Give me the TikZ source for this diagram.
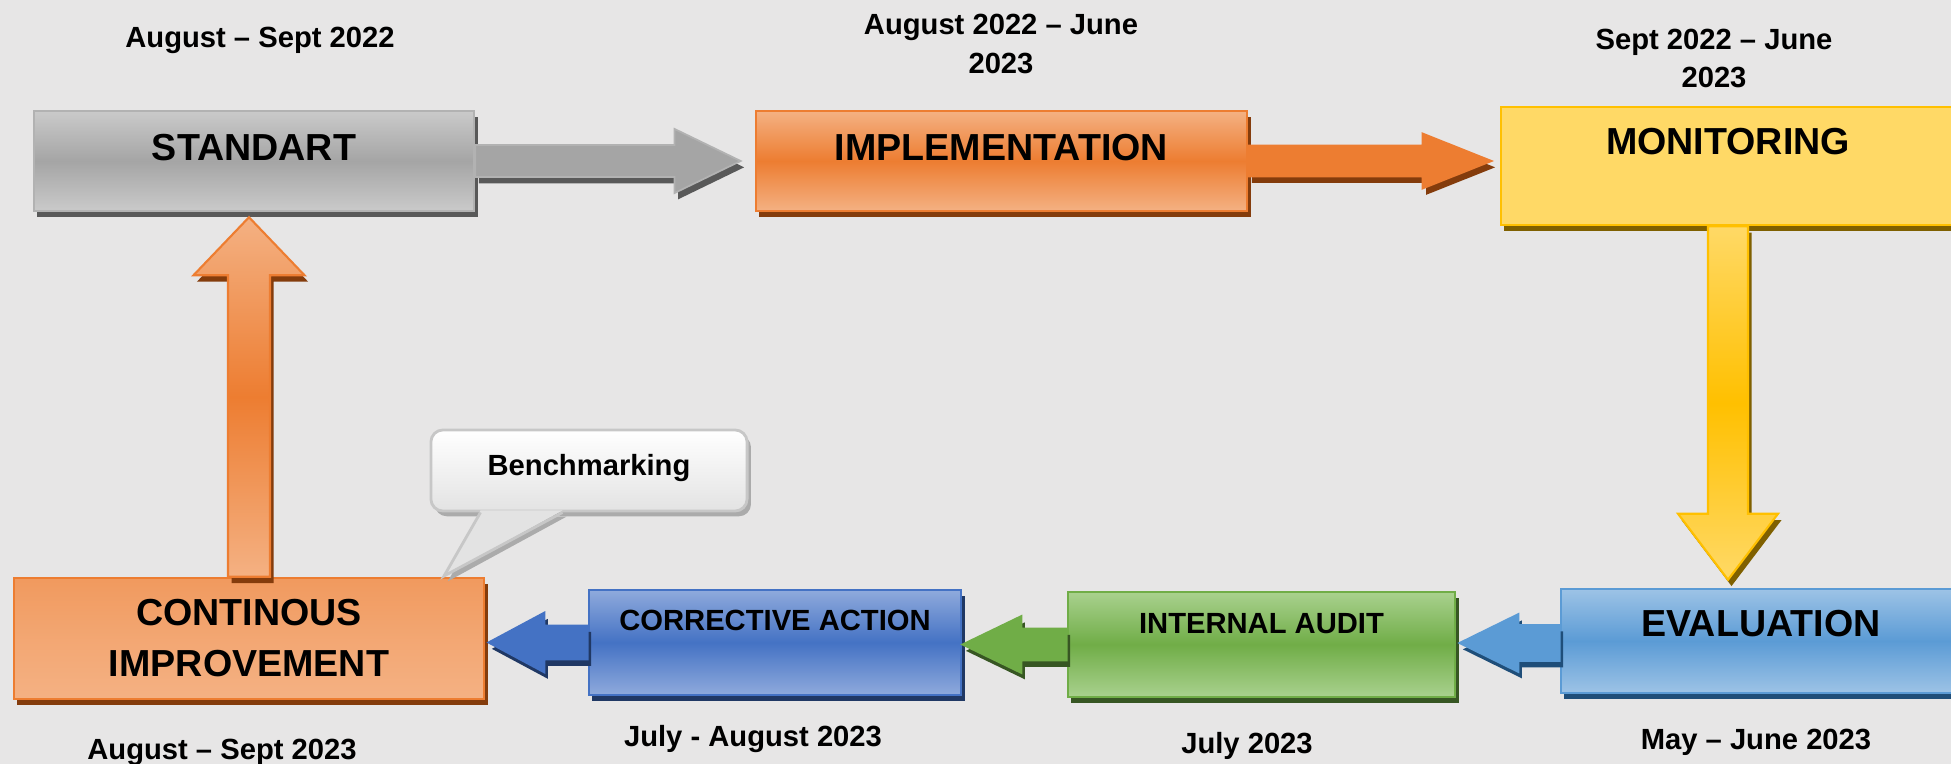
\documentclass[tikz,border=0pt]{standalone}
\usepackage{fontspec}
\setmainfont{Liberation Sans}
\usetikzlibrary{calc,shadows}

\definecolor{bgc}{HTML}{E7E6E6}
\definecolor{grayl}{HTML}{CACACA}
\definecolor{graym}{HTML}{A5A5A5}
\definecolor{grayd}{HTML}{595959}
\definecolor{orl}{HTML}{F4B183}
\definecolor{orm}{HTML}{ED7D31}
\definecolor{ord}{HTML}{843C0C}
\definecolor{yel}{HTML}{FFD966}
\definecolor{yem}{HTML}{FFC000}
\definecolor{yed}{HTML}{7F6000}
\definecolor{bll}{HTML}{9DC3E6}
\definecolor{blm}{HTML}{5B9BD5}
\definecolor{bld}{HTML}{1F4E79}
\definecolor{grl}{HTML}{A9D18E}
\definecolor{grm}{HTML}{70AD47}
\definecolor{grd}{HTML}{375623}
\definecolor{dbl}{HTML}{8FAADC}
\definecolor{dbm}{HTML}{4472C4}
\definecolor{dbd}{HTML}{203864}

\newcommand{\arrowpath}[5]{($(#1)!#3!90:(#2)$) -- ($(#5)!#3!90:(#2)$) -- ($(#5)!#4!90:(#2)$) -- (#2) -- ($(#5)!#4!-90:(#2)$) -- ($(#5)!#3!-90:(#2)$) -- ($(#1)!#3!-90:(#2)$) -- cycle}
\newcommand{\blockarrow}[7]{%
  \coordinate (hb) at ($(#4)!#7!(#3)$);
  \fill[#2, transform canvas={xshift=1pt, yshift=-1.8pt}] \arrowpath{#3}{#4}{#5}{#6}{hb};
  \path[#1] \arrowpath{#3}{#4}{#5}{#6}{hb};}

\begin{document}
\begin{tikzpicture}[x=0.01cm, y=-0.01cm,
	every node/.style={inner sep=0pt, font=\bfseries},
	box/.style n args={4}{draw=#1, line width=0.7pt, top color=#2, bottom color=#2, middle color=#3, general shadow={fill=#4, shadow xshift=1pt, shadow yshift=-1.8pt}},
	big/.style={font=\fontsize{10.7}{14.5}\selectfont\bfseries, text height=0.27cm, text depth=#1},
	small/.style={font=\fontsize{8.3}{11}\selectfont\bfseries, text height=0.21cm, text depth=#1},
	date/.style={font=\fontsize{8.3}{10.9}\selectfont\bfseries},
	one/.style={text height=0.2cm, text depth=0cm},
	bubble/.style={draw=black!22, line width=0.8pt, rounded corners=0.12cm, top color=white, bottom color=black!11, minimum width=3.16cm, minimum height=0.81cm, general shadow={fill=black!33, shadow xshift=1.1pt, shadow yshift=-1.5pt}}]
	\clip (0,0) rectangle (1951,764);
	\fill[bgc] (0,0) rectangle (1951,764);
	\node[box={graym!85!white}{grayl}{graym}{grayd}, big=0.27cm, minimum width=4.4cm, minimum height=1cm] (std) at (254,161) {STANDART};
	\node[box={orm}{orl}{orm}{ord}, big=0.27cm, minimum width=4.91cm, minimum height=1cm] (impl) at (1001.5,161) {IMPLEMENTATION};
	\node[box={yem}{yel}{yel}{yed}, big=0.49cm, minimum width=4.54cm, minimum height=1.18cm] (mon) at (1728,166) {MONITORING};
	\node[box={blm}{bll}{blm}{bld}, big=0.36cm, minimum width=4cm, minimum height=1.04cm] (eval) at (1761,641) {EVALUATION};
	\node[box={grm}{grl}{grm}{grd}, small=0.43cm, minimum width=3.87cm, minimum height=1.05cm] (audit) at (1261.5,644.5) {INTERNAL AUDIT};
	\node[box={dbm}{dbl}{dbm}{dbd}, small=0.45cm, minimum width=3.72cm, minimum height=1.05cm] (corr) at (775,642.5) {CORRECTIVE ACTION};
	\node[box={orm}{orl}{orl}{ord}, top color=orm!45!orl, bottom color=orl, middle color=orm!20!orl, font=\fontsize{10.7}{14.5}\selectfont\bfseries, align=center, minimum width=4.7cm, minimum height=1.21cm] (cont) at (249,638.5) {CONTINOUS\\IMPROVEMENT};
	\node[date, one] (d1) at (260,38) {August -- Sept 2022};
	\node[date, align=center] (d2) at (1001,44) {August 2022 -- June\\2023};
	\node[date, align=center] (d3) at (1714,58.5) {Sept 2022 -- June\\2023};
	\node[date, one] (d4) at (1756,739) {May -- June 2023};
	\node[date, one] (d5) at (1247,743) {July 2023};
	\node[date, one] (d6) at (753,736) {July - August 2023};
	\node[date, one] (d7) at (222,749) {August -- Sept 2023};
	\coordinate (t1) at ($(impl.west)+(-14,0)$);
	\coordinate (t2) at ($(impl.east -| mon.west)+(-8,0)$);
	\coordinate (t3) at ($(mon.south |- eval.north)+(0,-8)$);
	\coordinate (s4) at ($(eval.west)+(0,2)$);
	\coordinate (t4) at ($(audit.east |- s4)+(3,0)$);
	\coordinate (t5) at (corr.east |- audit.west);
	\coordinate (t6) at ($(cont.east |- corr.west)+(3,0)$);
	\coordinate (t7) at ($(cont.north |- std.south)+(0,5)$);
	\blockarrow{fill=graym, draw=graym!85!white, line width=0.5pt}{grayd}{std.east}{t1}{0.16cm}{0.32cm}{0.66cm}
	\blockarrow{fill=orm, draw=orm, line width=0.5pt}{ord}{impl.east}{t2}{0.155cm}{0.275cm}{0.69cm}
	\blockarrow{top color=yel, bottom color=yel, middle color=yem, draw=yem, line width=0.6pt}{yed}{mon.south}{t3}{0.2cm}{0.5cm}{0.66cm}
	\blockarrow{fill=blm, draw=blm, line width=0.5pt}{bld}{s4}{t4}{0.18cm}{0.29cm}{0.59cm}
	\blockarrow{fill=grm, draw=grm, line width=0.5pt}{grd}{audit.west}{t5}{0.16cm}{0.285cm}{0.59cm}
	\blockarrow{fill=dbm, draw=dbm, line width=0.5pt}{dbd}{corr.west}{t6}{0.17cm}{0.3cm}{0.56cm}
	\blockarrow{top color=orl, bottom color=orl, middle color=orm, draw=orm, line width=0.6pt}{ord}{cont.north}{t7}{0.21cm}{0.555cm}{0.58cm}
	\node[bubble, font=\fontsize{8.3}{11}\selectfont\bfseries, text height=0.21cm, text depth=0.12cm] (bench) at (589,470.5) {Benchmarking};
	\coordinate (bp) at (444,576);
	\fill[black!33, transform canvas={xshift=1.1pt, yshift=-1.5pt}] ($(bench.south west)+(51,-1)$) -- (bp) -- ($(bench.south west)+(133,-1)$) -- cycle;
	\fill[black!11] ($(bench.south west)+(51,-2)$) -- (bp) -- ($(bench.south west)+(133,-2)$) -- cycle;
	\draw[black!22, line width=0.8pt] ($(bench.south west)+(51,0)$) -- (bp) -- ($(bench.south west)+(133,0)$);
\end{tikzpicture}
\end{document}
